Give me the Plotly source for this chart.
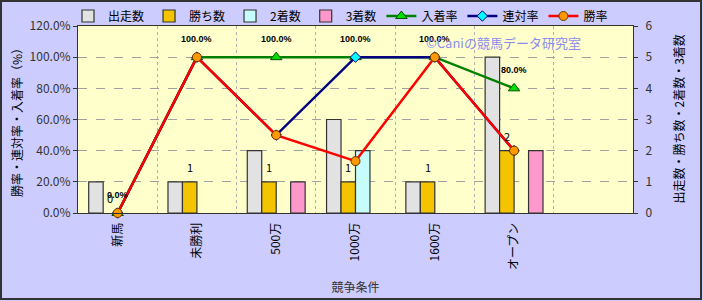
import plotly.graph_objects as go

categories = ["新馬", "未勝利", "500万", "1000万", "1600万", "オープン"]
starts = [1, 1, 2, 3, 1, 5]
wins = [0, 1, 1, 1, 1, 2]
seconds = [0, 0, 0, 2, 0, 0]
thirds = [0, 0, 1, 0, 0, 2]
place_rate = [0.0, 1.0, 1.0, 1.0, 1.0, 0.8]
quinella_rate = [0.0, 1.0, 0.5, 1.0, 1.0, 0.4]
win_rate = [0.0, 1.0, 0.5, 0.333, 1.0, 0.4]

FONT = "Noto Sans CJK JP"
W, H = 703, 301
L, R, T, B = 78, 70, 26, 88
pw, ph = W - L - R, H - T - B
N_SLOTS = 7
BARGAP = 0.27
N_BARS = 4
bar_px = pw / N_SLOTS * (1 - BARGAP) / N_BARS

def nz(vals):
    # zero-height bars are not drawn in the reference
    return [v if v else None for v in vals]

bar_line = dict(color="#333333", width=1.2)
fig = go.Figure()
fig.add_trace(go.Bar(x=categories, y=nz(starts), name="出走数", yaxis="y",
                     marker=dict(color="#E2E2E2", line=bar_line)))
fig.add_trace(go.Bar(x=categories, y=nz(wins), name="勝ち数", yaxis="y",
                     marker=dict(color="#F5C400", line=bar_line)))
fig.add_trace(go.Bar(x=categories, y=nz(seconds), name="2着数", yaxis="y",
                     marker=dict(color="#C6FCFC", line=bar_line)))
fig.add_trace(go.Bar(x=categories, y=nz(thirds), name="3着数", yaxis="y",
                     marker=dict(color="#FF99CC", line=bar_line)))

fig.add_trace(go.Scatter(x=categories, y=place_rate, name="入着率", yaxis="y2",
                         mode="lines+markers",
                         line=dict(color="#008000", width=2.5),
                         marker=dict(symbol="triangle-up", size=10, color="#00E000",
                                     line=dict(color="#005000", width=1)),
                         cliponaxis=False))
fig.add_trace(go.Scatter(x=categories, y=quinella_rate, name="連対率", yaxis="y2",
                         mode="lines+markers",
                         line=dict(color="#000080", width=2.5),
                         marker=dict(symbol="diamond", size=8, color="#00FFFF",
                                     line=dict(color="#000080", width=1)),
                         cliponaxis=False))
fig.add_trace(go.Scatter(x=categories, y=win_rate, name="勝率", yaxis="y2",
                         mode="lines+markers",
                         line=dict(color="#FF0000", width=2.5),
                         marker=dict(symbol="circle", size=9, color="#FF9900",
                                     line=dict(color="#663300", width=1)),
                         cliponaxis=False))

def px_x(p):
    return (p - L) / pw

def px_y(p):
    return (H - B - p) / ph

annotations = []
for c, v in zip(categories, wins):
    annotations.append(dict(x=c, y=v, xref="x", yref="y", text=str(v), showarrow=False,
                            xanchor="center", yanchor="bottom", xshift=-bar_px / 2, yshift=5,
                            font=dict(size=11, color="#000000", family=FONT)))
for c, v in zip(categories, place_rate):
    annotations.append(dict(x=c, y=v, xref="x", yref="y2", text=f"<b>{v*100:.1f}%</b>", showarrow=False,
                            xanchor="center", yanchor="bottom", yshift=11,
                            font=dict(size=9, color="#000000", family="Liberation Sans")))
annotations.append(dict(text="©Caniの競馬データ研究室", xref="paper", yref="paper",
                        x=px_x(503), y=px_y(42), xanchor="center", yanchor="middle",
                        showarrow=False, font=dict(size=13, color="#8C8CF0", family=FONT)))
annotations.append(dict(text="出走数・勝ち数・2着数・3着数", xref="paper", yref="paper",
                        x=px_x(678), y=0.5, xanchor="center", yanchor="middle", textangle=-90,
                        showarrow=False, font=dict(size=12, color="#000000", family=FONT)))

fig.update_layout(
    width=W, height=H,
    margin=dict(l=L, r=R, t=T, b=B, pad=0, autoexpand=False),
    paper_bgcolor="#CCCCFF",
    plot_bgcolor="#FFFFCC",
    font=dict(family=FONT, size=12, color="#000000"),
    barmode="group", bargap=BARGAP, bargroupgap=0,
    showlegend=True,
    legend=dict(orientation="h", x=px_x(68), y=px_y(16), xanchor="left", yanchor="middle",
                bgcolor="rgba(0,0,0,0)", font=dict(size=12, family=FONT),
                itemwidth=30, traceorder="normal", tracegroupgap=0),
    xaxis=dict(type="category", categoryorder="array", categoryarray=categories,
               range=[-0.5, N_SLOTS - 0.5], tickangle=-90, tickson="boundaries",
               showgrid=True, gridcolor="#B0B0B0", griddash="dot", gridwidth=1,
               showline=True, linecolor="#333333", linewidth=1, mirror=True,
               ticks="", ticklabelstandoff=4, tickfont=dict(size=12, color="#000000"),
               title=dict(text="競争条件", font=dict(size=12, color="#333333"), standoff=14),
               fixedrange=True),
    yaxis=dict(side="right", range=[0, 6], dtick=1, showgrid=False,
               showline=True, linecolor="#333333", linewidth=1,
               ticks="outside", ticklen=4, tickcolor="#333333", ticklabelstandoff=5,
               tickfont=dict(size=12, color="#333333"),
               zeroline=False, fixedrange=True),
    yaxis2=dict(overlaying="y", side="left", range=[0, 1.2], dtick=0.2, tickformat=".1%",
                showgrid=True, gridcolor="#A0A0A0", griddash="dash", gridwidth=1,
                showline=True, linecolor="#333333", linewidth=1,
                ticks="outside", ticklen=4, tickcolor="#333333",
                tickfont=dict(size=12, color="#333333"),
                title=dict(text="勝率・連対率・入着率（%）", font=dict(size=12, color="#000000"), standoff=4),
                zeroline=False, fixedrange=True),
    annotations=annotations,
    shapes=[dict(type="rect", xref="paper", yref="paper",
                 x0=px_x(1), x1=px_x(701), y0=px_y(299), y1=px_y(1),
                 line=dict(color="#333333", width=2), fillcolor="rgba(0,0,0,0)", layer="above")],
)

fig.write_html("out.html", config={"displayModeBar": False})
